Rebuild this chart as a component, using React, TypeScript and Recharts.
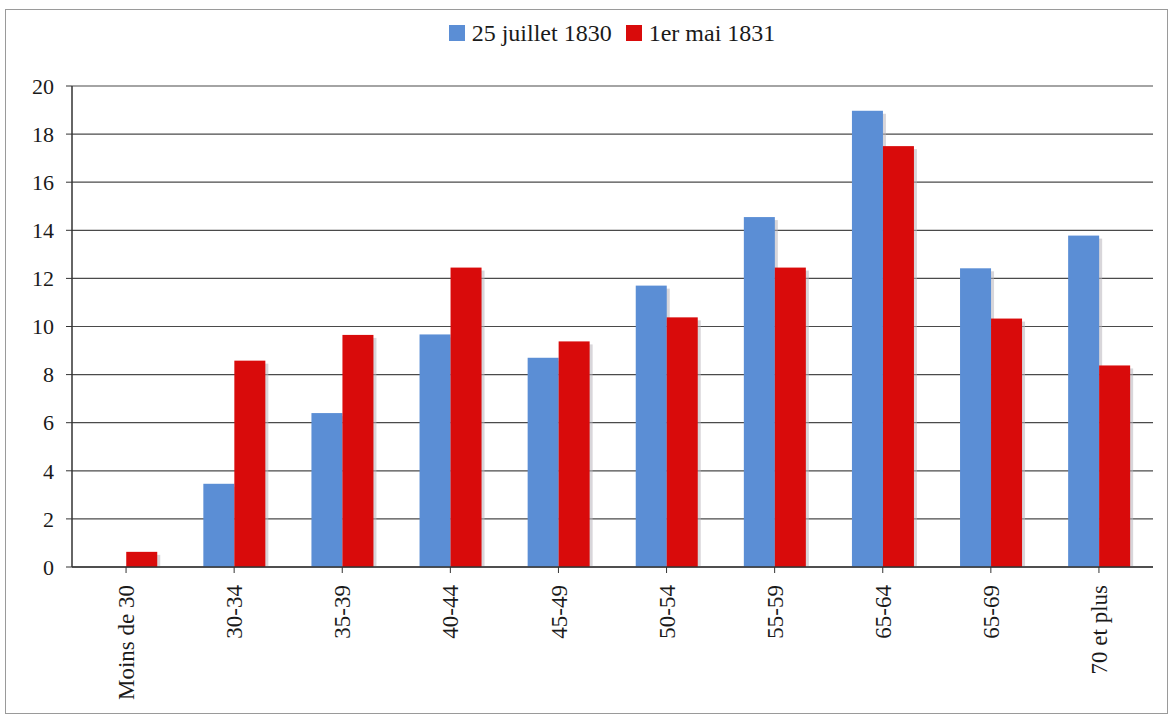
import React from 'react';
import { BarChart, Bar, XAxis, YAxis, CartesianGrid, Legend } from 'recharts';

const categories = ['Moins de 30', '30-34', '35-39', '40-44', '45-49', '50-54', '55-59', '65-64', '65-69', '70 et plus'];
const serie1830 = [0, 3.46, 6.4, 9.67, 8.7, 11.7, 14.55, 18.97, 12.42, 13.78];
const serie1831 = [0.63, 8.58, 9.65, 12.45, 9.38, 10.38, 12.45, 17.5, 10.33, 8.38];
const yTicks = [0, 2, 4, 6, 8, 10, 12, 14, 16, 18, 20];
const seriesNames = ['25 juillet 1830', '1er mai 1831'];
const colors = ['#5B8ED5', '#D90B0B'];

const data = categories.map((c, i) => ({ cat: c, a: serie1830[i], b: serie1831[i] }));

const FONT = "'Liberation Serif', 'Times New Roman', serif";

const ShadowBar = (props: any) => {
  const { x, y, width, height, fill } = props;
  if (!height || height <= 0) return null;
  return (
    <g>
      <rect x={x + 3} y={y + 3} width={width} height={Math.max(height - 3, 0)} fill="#b8b4bc" opacity={0.55} />
      <rect x={x} y={y} width={width} height={height} fill={fill} />
    </g>
  );
};

const XTick = (props: any) => {
  const { x, y, payload } = props;
  return (
    <g transform={`translate(${x},${y})`}>
      <text transform="rotate(-90)" x={-10} y={0} dy="0.35em" textAnchor="end" fill="#1a1a1a" fontSize={23} style={{ fontFamily: FONT }}>
        {payload.value}
      </text>
    </g>
  );
};

const YTick = (props: any) => {
  const { x, y, payload } = props;
  return (
    <text x={x} y={y} dy="0.35em" textAnchor="end" fill="#1a1a1a" fontSize={22} style={{ fontFamily: FONT }}>
      {payload.value}
    </text>
  );
};

const LegendContent = () => (
  <div style={{ display: 'flex', justifyContent: 'center', alignItems: 'center', fontFamily: FONT, fontSize: 24, color: '#1a1a1a', lineHeight: '24px', paddingLeft: 52 }}>
    {seriesNames.map((n, i) => (
      <div key={n} style={{ display: 'flex', alignItems: 'center', marginRight: i === 0 ? 14 : 0 }}>
        <span style={{ display: 'inline-block', width: 16, height: 16, background: colors[i], marginRight: 7 }} />
        <span>{n}</span>
      </div>
    ))}
  </div>
);

export default function App() {
  return (
    <div style={{ position: 'absolute', left: 0, top: 0, width: 1172, height: 718, background: '#fff' }}>
      <div style={{ position: 'absolute', left: 5, top: 9, width: 1161, height: 703, border: '1px solid #9a9a9a' }} />
      <BarChart
        width={1172}
        height={718}
        data={data}
        margin={{ top: 62, right: 19, left: 0, bottom: 11 }}
        barCategoryGap="21.5%"
        barGap={0}
      >
        <CartesianGrid vertical={false} stroke="#4a4a4a" strokeWidth={1.2} />
        <XAxis
          dataKey="cat"
          interval={0}
          height={140}
          tick={<XTick />}
          tickLine={{ stroke: '#333' }}
          tickSize={6}
          axisLine={{ stroke: '#333', strokeWidth: 1.5 }}
        />
        <YAxis
          domain={[0, 20]}
          ticks={yTicks}
          width={72}
          tickSize={6}
          tickMargin={12}
          tickLine={{ stroke: '#333' }}
          axisLine={{ stroke: '#333', strokeWidth: 1.5 }}
          tick={<YTick />}
          interval={0}
        />
        <YAxis
          yAxisId="r"
          orientation="right"
          domain={[0, 20]}
          width={0}
          tick={false}
          tickLine={false}
          axisLine={{ stroke: '#777' }}
        />
        <Legend
          verticalAlign="top"
          height={24}
          content={<LegendContent />}
          wrapperStyle={{ top: 21, left: 0, width: 1172 }}
        />
        <Bar dataKey="a" name={seriesNames[0]} fill={colors[0]} shape={<ShadowBar />} isAnimationActive={false} />
        <Bar dataKey="b" name={seriesNames[1]} fill={colors[1]} shape={<ShadowBar />} isAnimationActive={false} />
      </BarChart>
    </div>
  );
}
